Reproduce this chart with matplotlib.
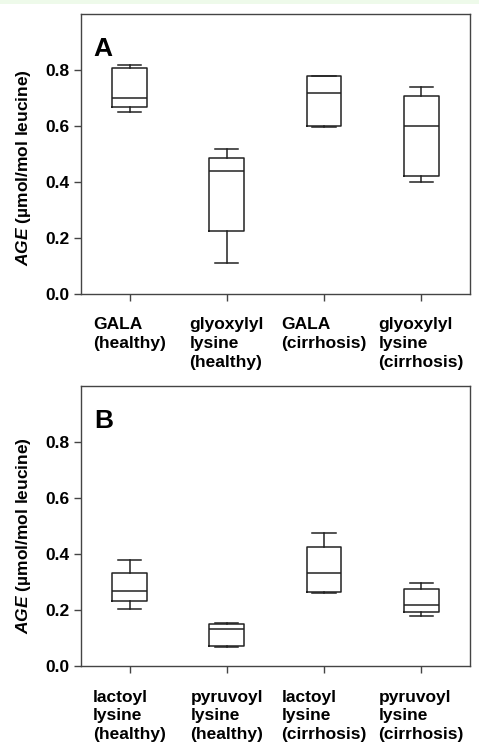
import matplotlib
matplotlib.use("Agg")
import matplotlib.pyplot as plt
from matplotlib.patches import Rectangle

plt.rcParams["font.family"] = ["Liberation Sans", "DejaVu Sans"]
plt.rcParams["font.weight"] = "bold"
plt.rcParams["mathtext.fontset"] = "custom"
plt.rcParams["mathtext.it"] = "Liberation Sans:italic:bold"
plt.rcParams["mathtext.rm"] = "Liberation Sans:bold"

# --- Data: (whisker low, Q1, median, Q3, whisker high) ---
labels_a = ["GALA\n(healthy)", "glyoxylyl\nlysine\n(healthy)",
            "GALA\n(cirrhosis)", "glyoxylyl\nlysine\n(cirrhosis)"]
whislo_a = [0.649, 0.110, 0.597, 0.399]
q1_a = [0.667, 0.225, 0.599, 0.420]
med_a = [0.700, 0.438, 0.717, 0.600]
q3_a = [0.806, 0.487, 0.780, 0.707]
whishi_a = [0.817, 0.517, 0.780, 0.739]

labels_b = ["lactoyl\nlysine\n(healthy)", "pyruvoyl\nlysine\n(healthy)",
            "lactoyl\nlysine\n(cirrhosis)", "pyruvoyl\nlysine\n(cirrhosis)"]
whislo_b = [0.204, 0.068, 0.262, 0.178]
q1_b = [0.231, 0.073, 0.263, 0.194]
med_b = [0.268, 0.131, 0.333, 0.217]
q3_b = [0.333, 0.149, 0.425, 0.275]
whishi_b = [0.378, 0.155, 0.473, 0.297]

yticks = [0.0, 0.2, 0.4, 0.6, 0.8]
line_col = "#222222"
frame_col = "#444444"


def draw_panel(ax, letter, labels, lo, q1, med, q3, hi, label_y):
    stats = []
    for i in range(len(labels)):
        stats.append({"whislo": lo[i], "q1": q1[i], "med": med[i],
                      "q3": q3[i], "whishi": hi[i], "fliers": []})
    props = dict(color=line_col, linewidth=1.1)
    ax.bxp(stats, positions=[1, 2, 3, 4], widths=0.356, capwidths=0.24,
           showfliers=False, boxprops=props, whiskerprops=props,
           capprops=props, medianprops=props)
    ax.set_xlim(0.5, 4.5)
    ax.set_ylim(0, 1.0)
    ax.set_yticks(yticks)
    ax.set_yticklabels([f"{t:.1f}" for t in yticks])
    ax.set_xticks([1, 2, 3, 4])
    ax.set_xticklabels(labels, ha="center", multialignment="left",
                       va="top", linespacing=1.3)
    ax.tick_params(axis="both", direction="out", length=5, width=1.0,
                   color=frame_col, labelsize=12.5)
    ax.tick_params(axis="x", pad=12)
    ax.tick_params(axis="y", pad=3)
    for sp in ax.spines.values():
        sp.set_color(frame_col)
        sp.set_linewidth(1.0)
    ax.set_ylabel(r"$\mathit{AGE}$ (µmol/mol leucine)", fontsize=12.5,
                  fontweight="bold")
    ax.yaxis.set_label_coords(-0.124, label_y)
    ax.text(0.033, 0.918, letter, transform=ax.transAxes, fontsize=19,
            fontweight="bold", va="top", ha="left")


fig = plt.figure(figsize=(4.79, 7.42), dpi=100)
fig.patches.append(Rectangle((0, 0.994), 1, 0.006, transform=fig.transFigure,
                             facecolor="#eefaea", edgecolor="none", zorder=-1))

ax_a = fig.add_axes([0.169, 0.604, 0.812, 0.377])
ax_b = fig.add_axes([0.169, 0.1024, 0.812, 0.3776])

draw_panel(ax_a, "A", labels_a, whislo_a, q1_a, med_a, q3_a, whishi_a, 0.452)
draw_panel(ax_b, "B", labels_b, whislo_b, q1_b, med_b, q3_b, whishi_b, 0.464)

fig.savefig("out.png", dpi=100)
